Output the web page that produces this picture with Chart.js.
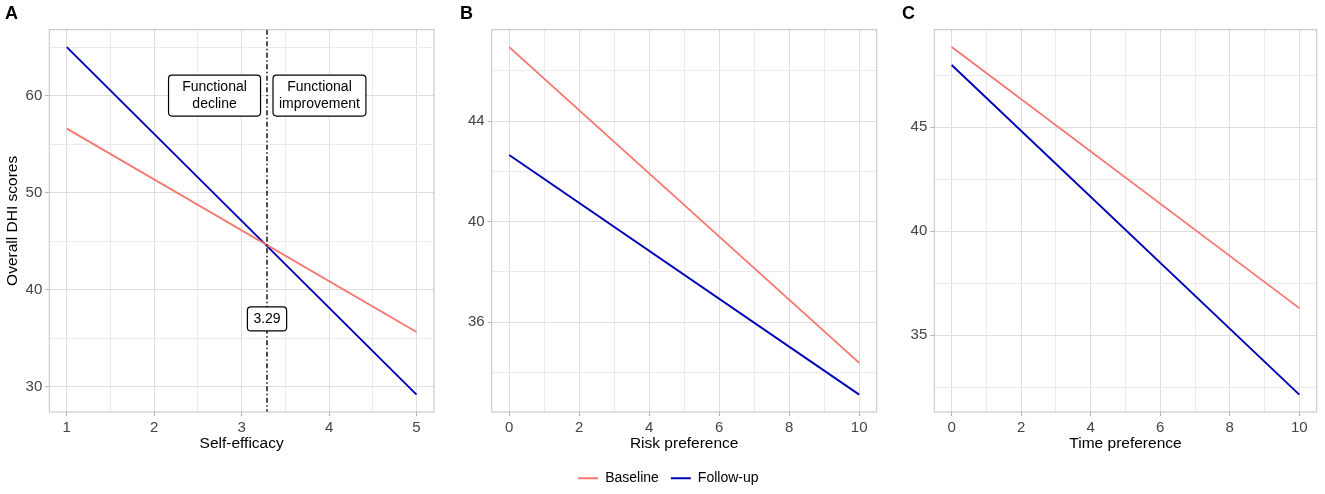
<!DOCTYPE html>
<html>
<head>
<meta charset="utf-8">
<script src="https://cdn.jsdelivr.net/npm/chart.js@4.4.1/dist/chart.umd.min.js"></script>
<style>
  html, body { margin: 0; padding: 0; width: 1325px; height: 494px; overflow: hidden; background: #fff; }
  canvas { position: absolute; top: 0; }
</style>
</head>
<body>
<canvas id="chartA" width="435" height="494" style="left:5px"></canvas>
<canvas id="chartB" width="425" height="497" style="left:460px"></canvas>
<canvas id="chartC" width="423" height="494" style="left:902px"></canvas>
<script>
// series names
const seriesNames = ["Baseline", "Follow-up"];
const seriesColors = ["#F8766D", "#0000B8"];

// panel A: self-efficacy
const effX = [1, 5];
const effBaseline = [56.6, 35.65];
const effFollowup = [65.0, 29.2];
const effXTicks = [1, 2, 3, 4, 5];
const effXMinor = [1.5, 2.5, 3.5, 4.5];
const effYTicks = [30, 40, 50, 60];
const effYMinor = [35, 45, 55, 65];
const effCut = 3.29;
const effNotes = [
  { x: 2.69, y: 60, text: "Functional\ndecline" },
  { x: 3.89, y: 60, text: "Functional\nimprovement" },
  { x: 3.29, y: 37, text: "3.29" },
];

// panel B: risk preference
const riskX = [0, 10];
const riskBaseline = [46.94, 34.38];
const riskFollowup = [42.65, 33.12];
const riskXTicks = [0, 2, 4, 6, 8, 10];
const riskXMinor = [1, 3, 5, 7, 9];
const riskYTicks = [36, 40, 44];
const riskYMinor = [34, 38, 42, 46];

// panel C: time preference
const timeX = [0, 10];
const timeBaseline = [48.86, 36.3];
const timeFollowup = [48.0, 32.14];
const timeXTicks = [0, 2, 4, 6, 8, 10];
const timeXMinor = [1, 3, 5, 7, 9];
const timeYTicks = [35, 40, 45];
const timeYMinor = [32.5, 37.5, 42.5, 47.5];

const FONT = '"Liberation Sans", Arial, sans-serif';
Chart.defaults.font.family = FONT;

// ggplot style 5% expansion of the data range
function expand(values) {
  const lo = Math.min(...values), hi = Math.max(...values);
  const pad = (hi - lo) * 0.05;
  return [lo - pad, hi + pad];
}

function toPoints(xs, ys) {
  return xs.map((x, i) => ({ x: x, y: ys[i] }));
}

// draws panel border, the cut-off line and the boxed labels
const decorPlugin = {
  id: "panelDecor",
  afterDraw(chart, args, opts) {
    const { ctx, chartArea: a } = chart;
    const xs = chart.scales.x, ys = chart.scales.y;
    ctx.save();
    if (opts.vline != null) {
      const px = xs.getPixelForValue(opts.vline);
      ctx.strokeStyle = "#000";
      ctx.lineWidth = 1.4;
      ctx.setLineDash([5, 2.5, 1.5, 2.5]);
      ctx.beginPath();
      ctx.moveTo(px, a.top);
      ctx.lineTo(px, a.bottom);
      ctx.stroke();
      ctx.setLineDash([]);
    }
    (opts.notes || []).forEach((note, i) => {
      const lines = note.text.split("\n");
      ctx.font = "14px " + FONT;
      const lineH = 17;
      const tw = Math.max(...lines.map(l => ctx.measureText(l).width));
      const w = Math.max(tw + 12, (opts.minWidths || [])[i] || 0);
      const h = lines.length * lineH + 7;
      const cx = xs.getPixelForValue(note.x);
      const cy = ys.getPixelForValue(note.y);
      const left = cx - w / 2, top = cy - h / 2;
      ctx.beginPath();
      ctx.roundRect(left, top, w, h, 3.5);
      ctx.fillStyle = "#fff";
      ctx.fill();
      ctx.strokeStyle = "#000";
      ctx.lineWidth = 1.2;
      ctx.stroke();
      ctx.fillStyle = "#000";
      ctx.textAlign = "center";
      ctx.textBaseline = "middle";
      lines.forEach((l, j) => ctx.fillText(l, cx, top + 3.5 + lineH * (j + 0.5)));
    });
    ctx.strokeStyle = "#c2c2c2";
    ctx.lineWidth = 1;
    ctx.strokeRect(a.left, a.top, a.right - a.left, a.bottom - a.top);
    ctx.restore();
  },
};

function makeAxis(range, major, minor, title, size, titlePad) {
  const all = major.concat(minor).sort((p, q) => p - q);
  const isMajor = v => major.includes(v);
  return {
    type: "linear",
    min: range[0],
    max: range[1],
    afterBuildTicks: scale => {
      scale.ticks = all.map(v => ({ value: v }));
    },
    afterFit: scale => {
      if (scale.isHorizontal()) scale.height = size;
      else scale.width = size;
    },
    ticks: {
      autoSkip: false,
      maxRotation: 0,
      padding: 3,
      color: "#444",
      font: { size: 15 },
      callback: v => (isMajor(v) ? String(v) : ""),
    },
    grid: {
      color: c => (isMajor(c.tick.value) ? "#dedede" : "#ebebeb"),
      lineWidth: 1,
      drawTicks: true,
      tickLength: 4,
      tickColor: c => (isMajor(c.tick.value) ? "#b3b3b3" : "rgba(0,0,0,0)"),
    },
    border: { display: false },
    title: {
      display: !!title,
      text: title,
      color: "#000",
      font: { size: 15.5 },
      padding: titlePad,
    },
  };
}

function makeChart(id, letter, xs, base, follow, xAxis, yAxis, padding, extra) {
  const ctx = document.getElementById(id).getContext("2d");
  return new Chart(ctx, {
    type: "line",
    data: {
      datasets: [
        { label: seriesNames[0], data: toPoints(xs, base), borderColor: seriesColors[0], backgroundColor: seriesColors[0], borderWidth: 1.8, pointRadius: 0, tension: 0, fill: false },
        { label: seriesNames[1], data: toPoints(xs, follow), borderColor: seriesColors[1], backgroundColor: seriesColors[1], borderWidth: 1.9, pointRadius: 0, tension: 0, fill: false },
      ],
    },
    options: {
      responsive: false,
      animation: false,
      events: [],
      layout: { padding: padding },
      scales: { x: xAxis, y: yAxis },
      plugins: {
        title: {
          display: true,
          text: letter,
          align: "start",
          color: "#000",
          font: { size: 18, weight: "bold" },
          padding: { top: 3.2, bottom: 4.9 },
        },
        legend: extra.legend || { display: false },
        tooltip: { enabled: false },
        panelDecor: extra.decor || {},
      },
    },
    plugins: [decorPlugin],
  });
}

const xTitlePad = { top: 0, bottom: 8.7 };

makeChart("chartA", "A", effX, effBaseline, effFollowup,
  makeAxis(expand(effX), effXTicks, effXMinor, "Self-efficacy", 49.3, xTitlePad),
  makeAxis(expand(effBaseline.concat(effFollowup)), effYTicks, effYMinor, "Overall DHI scores", 44.3, { top: -1.6, bottom: 0 }),
  { left: 0, right: 6, top: 0, bottom: 32.7 },
  { decor: { vline: effCut, notes: effNotes, minWidths: [92, 92, 0] } });

makeChart("chartB", "B", riskX, riskBaseline, riskFollowup,
  makeAxis(expand(riskX), riskXTicks, riskXMinor, "Risk preference", 47.3, { top: 0, bottom: 6.7 }),
  makeAxis(expand(riskBaseline.concat(riskFollowup)), riskYTicks, riskYMinor, "", 31.7, 0),
  { left: 0, right: 8.3, top: 0, bottom: 1.7 },
  {
    legend: {
      display: true,
      position: "bottom",
      labels: {
        boxWidth: 20,
        boxHeight: 2,
        padding: 12,
        color: "#000",
        font: { size: 14 },
        generateLabels: () => seriesNames.map((name, i) => ({
          text: name,
          fillStyle: seriesColors[i],
          strokeStyle: seriesColors[i],
          lineWidth: 0,
          hidden: false,
          datasetIndex: i,
          fontColor: "#000",
        })),
      },
    },
  });

makeChart("chartC", "C", timeX, timeBaseline, timeFollowup,
  makeAxis(expand(timeX), timeXTicks, timeXMinor, "Time preference", 49.3, xTitlePad),
  makeAxis(expand(timeBaseline.concat(timeFollowup)), timeYTicks, timeYMinor, "", 32.3, 0),
  { left: 0, right: 8.3, top: 0, bottom: 32.7 },
  {});
</script>
</body>
</html>
